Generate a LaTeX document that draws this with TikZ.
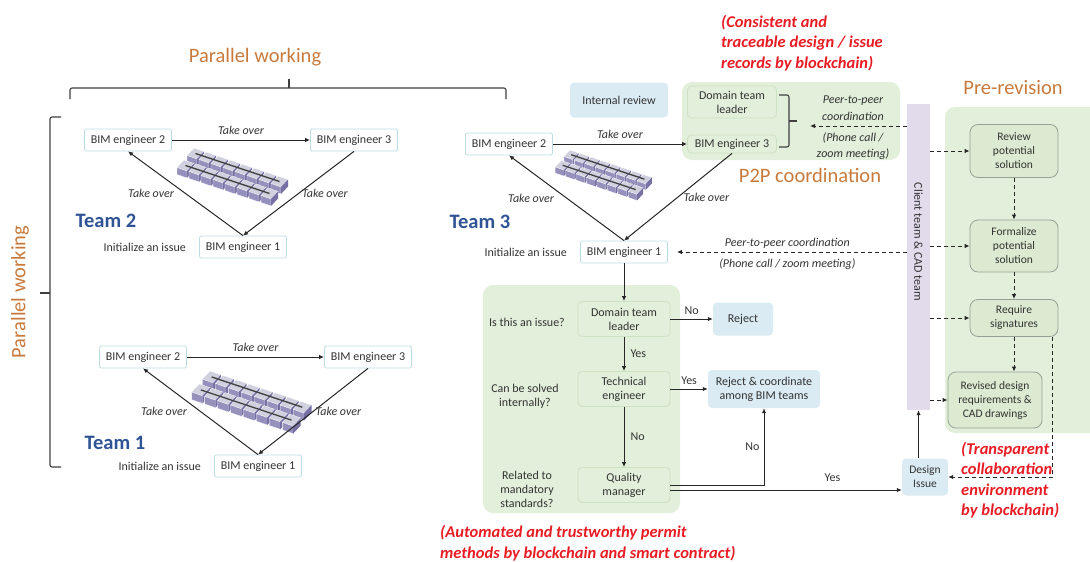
\documentclass[tikz,border=0pt]{standalone}
\usepackage{fontspec}
\setmainfont{Carlito}
\usepackage{tikz}
\usetikzlibrary{arrows.meta,positioning,calc}
\definecolor{panelGreen}{RGB}{226,239,218}
\definecolor{flowEdge}{RGB}{205,226,194}
\definecolor{revFill}{RGB}{219,234,208}
\definecolor{revEdge}{RGB}{150,162,150}
\definecolor{noteBlue}{RGB}{218,235,243}
\definecolor{bimEdge}{RGB}{188,220,225}
\definecolor{clientLilac}{RGB}{225,219,236}
\definecolor{warmOrange}{RGB}{200,122,60}
\definecolor{teamBlue}{RGB}{47,84,150}
\definecolor{claimRed}{RGB}{232,28,36}
\definecolor{modelTop}{RGB}{208,208,222}
\definecolor{modelFront}{RGB}{150,145,188}
\definecolor{modelSide}{RGB}{118,112,165}
\newcommand{\boxfont}{\fontsize{12}{14}\selectfont}
\newcommand{\takefont}{\fontsize{12}{16.5}\selectfont\itshape}
\newcommand{\titlefont}{\fontsize{20.5}{24}\selectfont}
\newcommand{\claimfont}{\fontsize{16.5}{20.5}\selectfont\bfseries\itshape}
\newcommand{\revfont}{\fontsize{11.5}{14}\selectfont}
% little block model of the building, #1 = scale, #2 = top left corner
\newcommand{\bimmodel}[2][1]{%
  \begin{scope}[shift={#2}, scale=#1]
    \foreach \j in {0,1}{
      \foreach \i in {0,...,7}{
        \begin{scope}[shift={(\i*12-\j*10,\i*4+\j*12)}]
          \fill[modelTop, draw=white, line width=0.3pt] (0,0) -- (10,3.5) -- (3,11) -- (-7,7.5) -- cycle;
          \fill[modelFront, draw=white, line width=0.3pt] (-7,7.5) -- (3,11) -- (3,18) -- (-7,14.5) -- cycle;
          \fill[modelSide] (3,11) -- (10,3.5) -- (10,10.5) -- (3,18) -- cycle;
        \end{scope}}
      \draw[black!75, line width=1.3pt] (1.5-\j*10,5.5+\j*12) -- ++(84,28);}
  \end{scope}}

\begin{document}
\begin{tikzpicture}[x=1pt, y=-1pt,
  every node/.style={text=black!80},
  bim/.style={draw=bimEdge, fill=white, rounded corners=2pt, line width=0.8pt,
    minimum width=87, minimum height=22, font=\boxfont},
  flow/.style={draw=flowEdge, fill=panelGreen, rounded corners=4pt, line width=0.8pt,
    minimum width=92, minimum height=35, align=center, font=\boxfont},
  panel/.style={fill=panelGreen, rounded corners=10pt},
  note/.style={fill=noteBlue, rounded corners=4pt, align=center, font=\boxfont},
  revbox/.style={draw=revEdge, fill=revFill, rounded corners=8pt, line width=0.8pt,
    minimum width=88, align=center, font=\revfont},
  lbl/.style={font=\boxfont, align=center, inner sep=1pt},
  take/.style={font=\takefont, align=center, inner sep=1pt},
  title/.style={font=\titlefont, text=warmOrange},
  team/.style={font=\titlefont\bfseries, text=teamBlue},
  claim/.style={font=\claimfont, text=claimRed, align=left, inner sep=0pt},
  arr/.style={-{Latex[length=5pt,width=4.5pt]}, line width=1pt, draw=black!85},
  darr/.style={arr, dash pattern=on 4pt off 3pt},
  brk/.style={line width=1.1pt, draw=black!75, rounded corners=2pt}]
\useasboundingbox (0,0) rectangle (1090,562);

% backgrounds
\node[panel, minimum width=218, minimum height=78] (p2p) at (791,121) {};
\node[panel, minimum width=197, minimum height=228] (permit) at (581.5,399) {};
\node[panel, minimum width=160, minimum height=326] (prerev) at (1025,270) {};
\node[fill=clientLilac, minimum width=23, minimum height=306] (client) at (918.5,257) {};
\node[font=\boxfont, rotate=-90] (clientlbl) at (918.5,242) {Client team \& CAD team};

% brackets
\draw[brk] (70,99) |- (506,88) -- (506,99);
\draw[brk] (289,88) -- (289,79);
\draw[brk] (61,117) -| (50,467) -- (61,467);
\draw[brk] (50,293) -- (40,293);
\node[title] (parH) at (255,57) {Parallel working};
\node[title, rotate=90] (parV) at (20,292) {Parallel working};

% team 2
\bimmodel{(194,148)}
\node[bim] (t2e2) at (128,140) {BIM engineer 2};
\node[bim] (t2e3) at (354,140) {BIM engineer 3};
\node[bim] (t2e1) at (243,247) {BIM engineer 1};
\node[lbl, left=12pt of t2e1] (t2init) {Initialize an issue};
\node[team] (t2name) at (106,221) {Team 2};
\draw[arr] (t2e2) -- node[take, above=4pt] (t2l1) {Take over} (t2e3);
\draw[arr] (t2e1.north) -- node[take, left=10pt] (t2l2) {Take over} (t2e2.south);
\draw[arr] (t2e3.south) -- node[take, right=2pt] (t2l3) {Take over} (t2e1.north);

% team 1
\bimmodel[1.08]{(210,371)}
\node[bim] (t1e2) at (143,357) {BIM engineer 2};
\node[bim] (t1e3) at (368,357) {BIM engineer 3};
\node[bim] (t1e1) at (258,466) {BIM engineer 1};
\node[lbl, left=12pt of t1e1] (t1init) {Initialize an issue};
\node[team] (t1name) at (115,443) {Team 1};
\draw[arr] (t1e2) -- node[take, above=4pt] (t1l1) {Take over} (t1e3);
\draw[arr] (t1e1.north) -- node[take, left=12pt] (t1l2) {Take over} (t1e2.south);
\draw[arr] (t1e3.south) -- node[take, right=1pt] (t1l3) {Take over} (t1e1.north);

% team 3 and p2p coordination
\bimmodel[0.87]{(570,150)}
\node[note, minimum width=98, minimum height=35] (review) at (619,100) {Internal review};
\node[flow, minimum width=89, minimum height=32] (p2pdtl) at (732,102) {Domain team\\leader};
\node[flow, minimum width=89, minimum height=18] (t3e3) at (732,144) {BIM engineer 3};
\node[bim] (t3e2) at (509,144) {BIM engineer 2};
\node[bim] (t3e1) at (624,252) {BIM engineer 1};
\node[lbl, left=12pt of t3e1] (t3init) {Initialize an issue};
\node[team] (t3name) at (480,222) {Team 3};
\draw[arr] (t3e2) -- node[take, above=4pt] (t3l1) {Take over} (t3e3);
\draw[arr] (t3e1.north) -- node[take, left=11pt] (t3l2) {Take over} (t3e2.south);
\draw[arr] (t3e3.south) -- node[take, right=4pt] (t3l3) {Take over} (t3e1.north);
\draw[brk] (779,95) -| (789,147) -- (779,147);
\draw[brk] (789,121) -- (797,121);
\node[take] (p2pnote1) at (853,108) {Peer-to-peer\\coordination};
\node[take] (p2pnote2) at (853,146) {(Phone call /\\zoom meeting)};
\coordinate (p2pin) at (810,126);
\draw[darr] (client.west |- p2pin) -- (p2pin);
\node[title] (p2ptitle) at (810,175) {P2P coordination};
\node[claim, anchor=west] (claimA) at (721,43) {(Consistent and\\traceable design / issue\\records by blockchain)};
\draw[darr, shorten >=9pt] (client.west |- t3e1) --
  node[take, above=2pt] (pcA) {Peer-to-peer coordination}
  node[take, below=5pt] (pcB) {(Phone call / zoom meeting)} (t3e1.east);

% permit checks
\node[flow] (dtl) at (624,319) {Domain team\\leader};
\node[flow] (te) at (624,389) {Technical\\engineer};
\node[flow] (qm) at (624,485) {Quality\\manager};
\node[lbl] (q1) at (527,322) {Is this an issue?};
\node[lbl] (q2) at (525,396) {Can be solved\\internally?};
\node[lbl] (q3) at (527,489) {Related to\\mandatory\\standards?};
\node[note, minimum width=60, minimum height=33] (reject) at (743,319) {Reject};
\node[note, minimum width=112, minimum height=38] (rejco) at (764,389) {Reject \& coordinate\\among BIM teams};
\node[note, font=\revfont, minimum width=46, minimum height=37] (design) at (925,477) {Design\\Issue};
\draw[arr] (t3e1) -- (dtl);
\draw[arr] (dtl) -- node[lbl, above=3pt] (n1) {No} (reject);
\draw[arr] (dtl) -- node[lbl, right=5pt] (y1) {Yes} (te);
\draw[arr] (te) -- node[lbl, above=3pt] (y2) {Yes} (rejco);
\draw[arr] (te) -- node[lbl, right=5pt] (n2) {No} (qm);
\draw[arr] (qm.east) -| node[lbl, pos=0.75, left=3pt] (n3) {No} (rejco.south);
\coordinate (qmyes) at ([yshift=-5pt]qm.east);
\draw[arr] (qmyes) -- node[lbl, pos=0.7, above=7pt] (y3) {Yes} (qmyes -| design.west);
\draw[arr] (client.south |- design.north) -- (client.south);
\node[claim, anchor=west] (claimB) at (440,543) {(Automated and trustworthy permit\\methods by blockchain and smart contract)};

% pre-revision
\node[title] (pretitle) at (1013,88) {Pre-revision};
\node[revbox, minimum height=53] (rev) at (1014,151) {Review\\potential\\solution};
\node[revbox, minimum height=52] (form) at (1014,246) {Formalize\\potential\\solution};
\node[revbox, minimum height=37] (sig) at (1014,318) {Require\\signatures};
\node[revbox, minimum width=94, minimum height=56] (revised) at (995,400) {Revised design\\requirements \&\\CAD drawings};
\foreach \b in {rev,form,sig,revised}
  \draw[darr] (client.east |- \b) -- (\b.west);
\draw[darr] (rev) -- (form);
\draw[darr] (form) -- (sig);
\draw[darr] (sig.south) -- (sig.south |- revised.north);
\draw[darr] ([xshift=-6pt]sig.south east) |- (design.east);
\node[claim, anchor=west] (claimC) at (961,480) {(Transparent\\collaboration\\environment\\by blockchain)};
\end{tikzpicture}
\end{document}
